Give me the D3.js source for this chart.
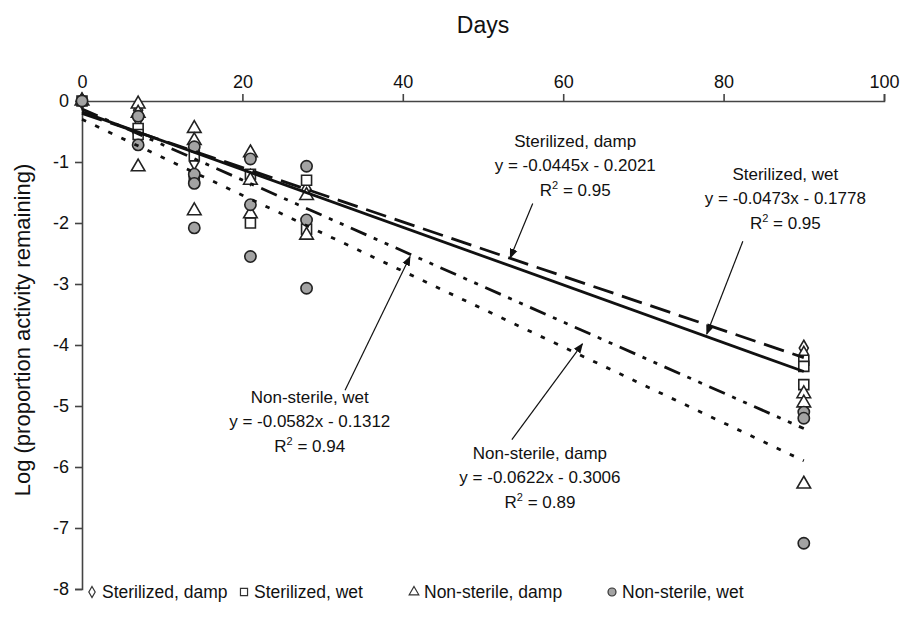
<!DOCTYPE html>
<html>
<head>
<meta charset="utf-8">
<script src="https://cdn.jsdelivr.net/npm/d3@7"></script>
<style>
  body { margin: 0; background: #fff; }
  text { font-family: "Liberation Sans", Arial, sans-serif; fill: #111; }
</style>
</head>
<body>
<svg id="chart"></svg>
<script>
// Observations: [day, log(proportion activity remaining)]
const sterilizedDamp = [[0, 0], [7, -0.15], [7, -0.3], [14, -0.8], [14, -1.0], [21, -0.9], [21, -1.25], [28, -1.45], [28, -2.05], [90, -4.05], [90, -4.15]];
const sterilizedWet = [[0, 0], [7, -0.45], [7, -0.55], [14, -0.9], [14, -1.25], [21, -1.2], [21, -2.0], [28, -1.3], [28, -2.1], [90, -4.25], [90, -4.35], [90, -4.65]];
const nonSterileDamp = [[0, 0], [7, -0.05], [7, -0.2], [7, -1.08], [14, -0.45], [14, -0.65], [14, -1.8], [21, -0.85], [21, -1.3], [21, -1.85], [28, -1.55], [28, -2.2], [90, -4.8], [90, -4.95], [90, -6.28]];
const nonSterileWet = [[0, 0], [7, -0.25], [7, -0.72], [14, -0.75], [14, -1.2], [14, -1.35], [14, -2.08], [21, -0.95], [21, -1.7], [21, -2.55], [28, -1.07], [28, -1.95], [28, -3.07], [90, -5.1], [90, -5.2], [90, -7.25]];

const seriesNames = ["Sterilized, damp", "Sterilized, wet", "Non-sterile, damp", "Non-sterile, wet"];
const slopes = [-0.0445, -0.0473, -0.0622, -0.0582];
const intercepts = [-0.2021, -0.1778, -0.3006, -0.1312];
const rSquared = ["0.95", "0.95", "0.89", "0.94"];

const xTicks = [0, 20, 40, 60, 80, 100];
const yTicks = [0, -1, -2, -3, -4, -5, -6, -7, -8];

const width = 906, height = 622;
const margin = { top: 101, right: 22, bottom: 33, left: 82 };

const svg = d3.select("#chart").attr("width", width).attr("height", height);

const x = d3.scaleLinear().domain([0, 100]).range([margin.left, width - margin.right]);
const y = d3.scaleLinear().domain([0, -8]).range([margin.top, height - margin.bottom]);

// axes (plain hyphen minus signs as in the original)
const xAxis = svg.append("g")
  .attr("transform", `translate(0,${y(0)})`)
  .call(d3.axisTop(x).tickValues(xTicks).tickFormat(d => d).tickSize(7).tickSizeOuter(7).tickPadding(6));
const yAxis = svg.append("g")
  .attr("transform", `translate(${x(0)},0)`)
  .call(d3.axisLeft(y).tickValues(yTicks).tickFormat(d => d).tickSize(7).tickSizeOuter(7).tickPadding(6));

[xAxis, yAxis].forEach(ax => {
  ax.selectAll("path, line").attr("stroke", "#444").attr("stroke-width", 1.6);
  ax.selectAll("text").attr("font-size", 18).attr("fill", "#111")
    .style("font-family", "'Liberation Sans', Arial, sans-serif");
});

svg.append("text")
  .attr("x", (x(0) + x(100)) / 2).attr("y", 33)
  .attr("text-anchor", "middle").attr("font-size", 23)
  .text("Days");

svg.append("text")
  .attr("transform", `translate(30, 330) rotate(-90)`)
  .attr("text-anchor", "middle").attr("font-size", 22)
  .text("Log (proportion activity remaining)");

// markers
const symbols = [d3.symbolDiamond, d3.symbolSquare, d3.symbolTriangle, d3.symbolCircle];
const symbolSizes = [70, 100, 80, 100];
const fills = ["#fff", "#fff", "#fff", "#a3a3a3"];
const allSeries = [sterilizedDamp, sterilizedWet, nonSterileDamp, nonSterileWet];

allSeries.forEach((data, i) => {
  svg.append("g").selectAll("path")
    .data(data)
    .join("path")
    .attr("d", d3.symbol(symbols[i], symbolSizes[i]))
    .attr("transform", d => `translate(${x(d[0])},${y(d[1])})`)
    .attr("fill", fills[i])
    .attr("stroke", "#222")
    .attr("stroke-width", 1.6);
});

// regression lines (drawn from day 0 to day 90)
const dashes = ["21,9", null, "4.5,10", "17,8,4,8,4,8"];
const fitLine = d3.line().x(d => x(d[0])).y(d => y(d[1]));
slopes.forEach((m, i) => {
  const pts = [0, 90].map(d => [d, m * d + intercepts[i]]);
  svg.append("path")
    .attr("d", fitLine(pts))
    .attr("fill", "none")
    .attr("stroke", "#111")
    .attr("stroke-width", 2.8)
    .attr("stroke-dasharray", dashes[i]);
});

// annotations: label position and arrow in data units
const labelPos = [[61.5, -0.75], [87.7, -1.3], [57.1, -5.87], [28.4, -4.95]];
const arrowFrom = [[56.2, -1.68], [82.4, -2.3], [53.6, -5.55], [32.8, -4.74]];
const arrowTo = [[53.4, -2.57], [77.9, -3.82], [62.4, -3.98], [40.9, -2.55]];

const defs = svg.append("defs");
defs.append("marker")
  .attr("id", "head")
  .attr("viewBox", "0 0 10 10")
  .attr("refX", 9).attr("refY", 5)
  .attr("markerWidth", 10).attr("markerHeight", 10)
  .attr("markerUnits", "userSpaceOnUse")
  .attr("orient", "auto")
  .append("path").attr("d", "M0,1 L10,5 L0,9 Z").attr("fill", "#111");

seriesNames.forEach((name, i) => {
  const [lx, ly] = labelPos[i];
  const sign = intercepts[i] < 0 ? "-" : "+";
  const t = svg.append("text")
    .attr("x", x(lx)).attr("y", y(ly))
    .attr("text-anchor", "middle").attr("font-size", 17);
  t.append("tspan").attr("x", x(lx)).text(name);
  t.append("tspan").attr("x", x(lx)).attr("dy", 24)
    .text(`y = ${slopes[i]}x ${sign} ${Math.abs(intercepts[i]).toFixed(4)}`);
  const r = t.append("tspan").attr("x", x(lx)).attr("dy", 25);
  r.append("tspan").text("R");
  r.append("tspan").attr("dy", -7).attr("font-size", 11).text("2");
  r.append("tspan").attr("dy", 7).text(` = ${rSquared[i]}`);

  svg.append("line")
    .attr("x1", x(arrowFrom[i][0])).attr("y1", y(arrowFrom[i][1]))
    .attr("x2", x(arrowTo[i][0])).attr("y2", y(arrowTo[i][1]))
    .attr("stroke", "#111").attr("stroke-width", 1.2)
    .attr("marker-end", "url(#head)");
});

// legend
const legendX = [92, 244, 414, 612];
const legend = svg.append("g").attr("transform", `translate(0, 592)`);
seriesNames.forEach((name, i) => {
  const g = legend.append("g").attr("transform", `translate(${legendX[i]},0)`);
  g.append("path")
    .attr("d", d3.symbol(symbols[i], symbolSizes[i] * 0.5))
    .attr("fill", fills[i]).attr("stroke", "#333").attr("stroke-width", 1.2);
  g.append("text").attr("x", 10).attr("y", 6).attr("font-size", 17.5).text(name);
});
</script>
</body>
</html>
